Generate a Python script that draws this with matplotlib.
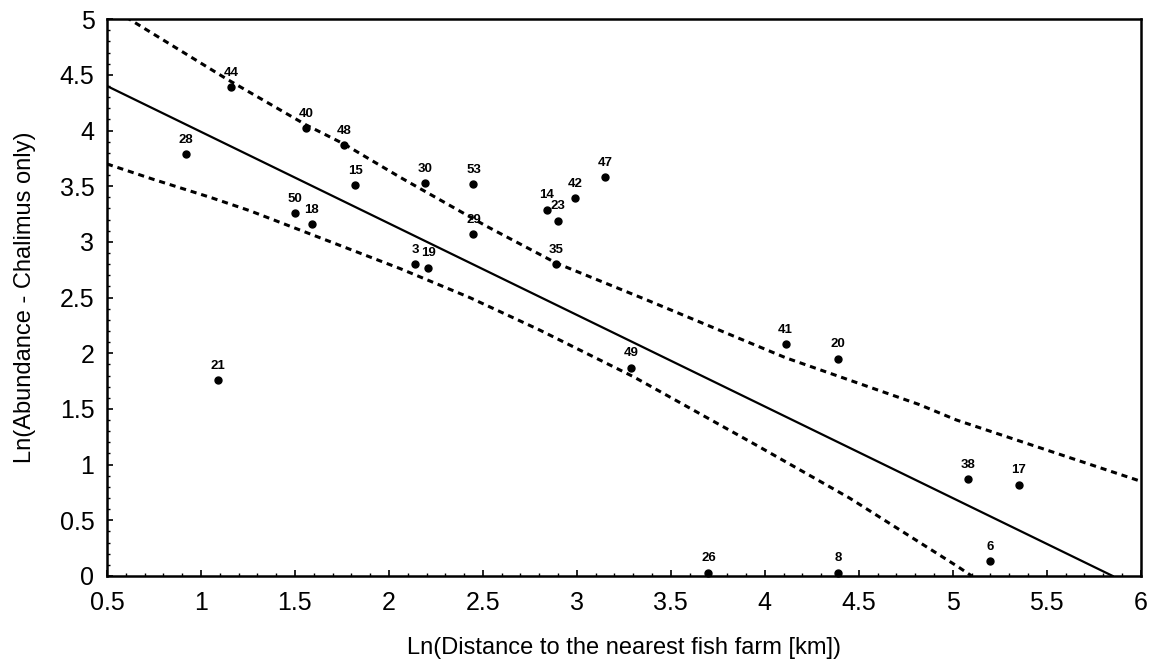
import matplotlib
matplotlib.use("Agg")
import matplotlib.pyplot as plt
from matplotlib.ticker import MultipleLocator, FormatStrFormatter

# site numbers with ln(distance) and ln(abundance)
site_ids = [44, 28, 40, 48, 15, 50, 18, 21, 30, 53, 29, 3, 19, 14, 23, 42, 47, 35,
            41, 20, 49, 38, 17, 6, 26, 8]
ln_dist = [1.16, 0.92, 1.56, 1.76, 1.82, 1.50, 1.59, 1.09, 2.19, 2.45, 2.45, 2.14, 2.21,
           2.84, 2.90, 2.99, 3.15, 2.89, 4.11, 4.39, 3.29, 5.08, 5.35, 5.20, 3.70, 4.39]
ln_abund = [4.39, 3.79, 4.02, 3.87, 3.51, 3.26, 3.16, 1.76, 3.53, 3.52, 3.07, 2.80, 2.77,
            3.29, 3.19, 3.39, 3.58, 2.80, 2.08, 1.95, 1.87, 0.87, 0.82, 0.13, 0.03, 0.03]

# regression line and its confidence band
fit_x = [0.50, 5.85]
fit_y = [4.40, 0.00]
upper_x = [0.60, 1.14, 1.56, 1.76, 2.06, 2.52, 2.89, 3.37, 4.11, 4.82, 5.02, 6.00]
upper_y = [5.02, 4.46, 4.05, 3.88, 3.58, 3.14, 2.81, 2.48, 1.96, 1.54, 1.40, 0.85]
lower_x = [0.50, 0.75, 1.05, 1.26, 2.06, 2.43, 2.80, 3.30, 3.97, 4.45, 5.03, 5.10]
lower_y = [3.70, 3.56, 3.40, 3.28, 2.76, 2.50, 2.21, 1.79, 1.16, 0.70, 0.08, 0.00]

plt.rcParams['font.family'] = ['Liberation Sans', 'DejaVu Sans']

fig = plt.figure(figsize=(11.5, 6.62), dpi=100)
ax = fig.add_axes([0.093, 0.130, 0.899, 0.841])

ax.plot(fit_x, fit_y, color='black', lw=1.6)
ax.plot(upper_x, upper_y, color='black', lw=2.2, linestyle=(0, (2, 1.6)))
ax.plot(lower_x, lower_y, color='black', lw=2.2, linestyle=(0, (2, 1.6)))
ax.plot(ln_dist, ln_abund, 'o', color='black', markersize=5, clip_on=False)

for sid, x, y in zip(site_ids, ln_dist, ln_abund):
    ax.annotate(str(sid), (x, y), xytext=(0, 6), textcoords='offset points',
                ha='center', va='bottom', fontsize=9.5, fontweight='bold',
                family=['Liberation Sans Narrow', 'Liberation Sans'])

ax.set_xlim(0.5, 6)
ax.set_ylim(0, 5)
ax.xaxis.set_major_locator(MultipleLocator(0.5))
ax.yaxis.set_major_locator(MultipleLocator(0.5))
ax.xaxis.set_minor_locator(MultipleLocator(0.1))
ax.yaxis.set_minor_locator(MultipleLocator(0.1))
ax.xaxis.set_major_formatter(FormatStrFormatter('%g'))
ax.yaxis.set_major_formatter(FormatStrFormatter('%g'))
ax.tick_params(which='both', direction='in', labelsize=18)
ax.tick_params(which='major', length=4, width=1.2)
ax.tick_params(axis='x', which='major', pad=11)
ax.tick_params(axis='y', which='major', pad=9)
ax.tick_params(which='minor', length=2.5, width=1)
for sp in ax.spines.values():
    sp.set_linewidth(1.8)

ax.set_xlabel('Ln(Distance to the nearest fish farm [km])', fontsize=17, labelpad=16)
ax.set_ylabel('Ln(Abundance - Chalimus only)', fontsize=17, labelpad=17)

fig.savefig('out.png', dpi=100)
